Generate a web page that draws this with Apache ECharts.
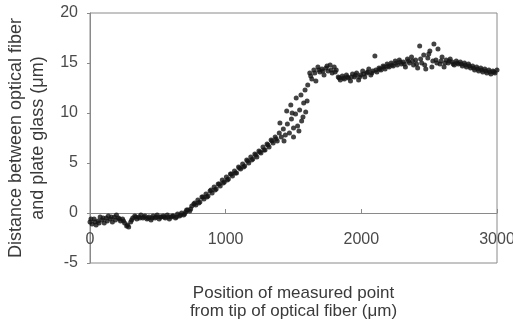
<!DOCTYPE html>
<html>
<head>
<meta charset="utf-8">
<script src="https://cdn.jsdelivr.net/npm/echarts@6/dist/echarts.min.js"></script>
<style>
  html, body { margin: 0; padding: 0; background: #fff; }
  #chart { width: 513px; height: 329px; }
</style>
</head>
<body>
<div id="chart"></div>
<script>
// Axis ticks
const yTicks = [-5, 0, 5, 10, 15, 20];
const xTicks = [0, 1000, 2000, 3000];

// Flat part before the fiber lifts off (um)
const flatX = [0, 15, 30, 45, 60, 75, 90, 105, 120, 135, 150, 165, 180, 195, 210, 225, 240, 255, 270, 285,
  300, 315, 330, 345, 360, 375, 390, 405, 420, 435, 450, 465, 480, 495, 510, 525, 540, 555, 570, 585,
  600, 615, 630, 645, 660, 675, 690];
const flatY = [-0.9, -1.1, -0.6, -1.2, -0.8, -0.4, -0.7, -1.0, -0.5, -0.3, -0.6, -0.9, -0.4, -0.2, -0.5, -0.8, -0.6, -1.0, -1.3, -1.4,
  -0.9, -0.5, -0.3, -0.6, -0.4, -0.2, -0.5, -0.3, -0.6, -0.4, -0.7, -0.3, -0.5, -0.2, -0.6, -0.4, -0.3, -0.5, -0.2, -0.6,
  -0.4, -0.3, -0.5, -0.1, -0.3, 0.0, -0.2];
const flat2X = [7, 37, 67, 97, 127, 157, 187, 217, 247, 277, 307, 337, 367, 397, 427, 457, 487, 517, 547, 577, 607, 637, 667, 697];
const flat2Y = [-0.6, -0.9, -1.0, -0.5, -0.8, -0.4, -0.7, -0.6, -0.8, -1.2, -0.7, -0.4, -0.5, -0.4, -0.5, -0.5, -0.4, -0.4, -0.4, -0.4, -0.3, -0.4, -0.2, -0.1];

// Rising part
const rampX = [705, 720, 735, 750, 765, 780, 795, 810, 825, 840, 855, 870, 885, 900, 915, 930, 945, 960, 975, 990,
  1005, 1020, 1035, 1050, 1065, 1080, 1095, 1110, 1125, 1140, 1155, 1170, 1185, 1200, 1215, 1230, 1245, 1260, 1275, 1290,
  1305, 1320, 1335, 1350, 1365, 1380, 1395, 1410, 1425, 1440, 1455, 1470, 1485, 1500, 1515, 1530, 1545, 1560, 1575, 1590,
  1400, 1430, 1450, 1480, 1490, 1500, 1520, 1540, 1555, 1570, 1585, 1600];
const rampY = [0.1, 0.3, 0.2, 0.7, 0.9, 0.8, 1.3, 1.1, 1.6, 1.4, 1.9, 1.7, 2.2, 2.0, 2.6, 2.4, 2.9, 2.7, 3.3, 3.1,
  3.6, 3.4, 3.9, 3.7, 4.2, 4.0, 4.6, 4.4, 4.9, 4.7, 5.3, 5.0, 5.6, 5.4, 5.9, 5.6, 6.2, 6.0, 6.6, 6.3,
  6.9, 6.6, 7.3, 7.0, 7.6, 7.2, 8.0, 7.6, 8.4, 7.8, 8.9, 8.0, 9.4, 8.5, 9.9, 8.7, 10.3, 9.2, 11.0, 10.1,
  9.0, 7.2, 10.2, 10.8, 10.0, 7.6, 11.5, 8.2, 11.8, 9.6, 12.3, 11.2];
const ramp2X = [712, 742, 772, 802, 832, 862, 892, 922, 952, 982, 1012, 1042, 1072, 1102, 1132, 1162, 1192, 1222, 1252, 1282, 1312, 1342, 1372];
const ramp2Y = [0.3, 0.4, 1.0, 1.0, 1.6, 1.6, 2.3, 2.3, 2.9, 3.0, 3.3, 3.9, 4.0, 4.5, 4.6, 5.2, 5.3, 5.8, 6.1, 6.3, 6.8, 7.2, 7.4];

// Plateau after contact is lost
const plateauX = [1605, 1620, 1635, 1650, 1665, 1680, 1695, 1710, 1725, 1740, 1755, 1770, 1785, 1800, 1815, 1830, 1845, 1860, 1875, 1890,
  1905, 1920, 1935, 1950, 1965, 1980, 1995, 2010, 2025, 2040, 2055, 2070, 2085, 2100, 2115, 2130, 2145, 2160, 2175, 2190,
  2205, 2220, 2235, 2250, 2265, 2280, 2295, 2310, 2325, 2340, 2355, 2370, 2385, 2400, 2415, 2430, 2445, 2460, 2475, 2490,
  2505, 2520, 2535, 2550, 2565, 2580, 2595, 2610, 2625, 2640, 2655, 2670, 2685, 2700, 2715, 2730, 2745, 2760, 2775, 2790,
  2805, 2820, 2835, 2850, 2865, 2880, 2895, 2910, 2925, 2940, 2955, 2970, 2985, 3000];
const plateauY = [12.8, 14.0, 13.4, 14.3, 13.2, 14.6, 14.1, 14.4, 13.8, 14.5, 14.2, 14.8, 14.0, 14.6, 14.3, 13.6, 13.3, 13.7, 13.4, 13.8,
  13.5, 13.2, 13.9, 13.6, 14.0, 13.3, 13.8, 14.2, 13.6, 14.0, 14.4, 13.8, 14.2, 15.7, 14.1, 14.5, 14.3, 14.7, 14.4, 14.9,
  14.6, 15.0, 14.7, 15.2, 14.8, 15.3, 14.9, 15.1, 14.6, 15.4, 15.0, 15.6, 14.8, 15.3, 14.5, 16.7, 15.0, 15.8, 14.4, 15.5,
  16.2, 14.6, 16.9, 15.3, 16.4, 14.9, 15.6, 14.6, 15.3, 15.0, 15.4, 15.1, 14.8, 15.2, 14.9, 15.1, 14.7, 15.0, 14.6, 14.9,
  14.5, 14.7, 14.3, 14.6, 14.2, 14.5, 14.1, 14.4, 14.0, 14.3, 13.9, 14.2, 14.0, 14.3];
const plateau2X = [1627, 1657, 1687, 1717, 1747, 1777, 1807, 1837, 1867, 1897, 1927, 1957, 1987, 2017, 2047, 2077, 2107, 2137, 2167, 2197,
  2227, 2257, 2287, 2317, 2347, 2377, 2407, 2437, 2467, 2497, 2527, 2557, 2587, 2617, 2647, 2677, 2707, 2737, 2767, 2797,
  2827, 2857, 2887, 2917, 2947, 2977];
const plateau2Y = [13.7, 14.0, 14.3, 14.2, 14.7, 14.3, 14.1, 13.5, 13.5, 13.6, 13.6, 13.8, 13.6, 13.9, 14.1, 14.0, 14.3, 14.4, 14.6, 14.7,
  14.8, 15.0, 15.1, 14.9, 15.2, 15.2, 14.9, 15.4, 14.8, 15.9, 15.2, 15.0, 15.2, 15.0, 15.2, 14.9, 15.0, 14.9, 14.8, 14.7,
  14.5, 14.4, 14.3, 14.2, 14.1, 14.1];

const zip = (xs, ys) => xs.map((x, i) => [x, ys[i]]);
const points = [].concat(
  zip(flatX, flatY), zip(flat2X, flat2Y),
  zip(rampX, rampY), zip(ramp2X, ramp2Y),
  zip(plateauX, plateauY), zip(plateau2X, plateau2Y)
);

const font = 'Liberation Sans, Arial, sans-serif';
const axisGray = '#8a8a8a';

const chart = echarts.init(document.getElementById('chart'), null, { renderer: 'canvas' });

chart.setOption({
  animation: false,
  backgroundColor: '#ffffff',
  grid: {
    left: 90,
    right: 16,
    top: 13,
    bottom: 66,
    outerBoundsMode: 'none', // keep the plot box where it is
    show: true,
    borderColor: axisGray,
    borderWidth: 1,
  },
  xAxis: {
    type: 'value',
    min: xTicks[0],
    max: xTicks[xTicks.length - 1],
    interval: 1000,
    axisLine: { onZero: true, lineStyle: { color: axisGray, width: 1 } },
    axisTick: { show: true, inside: true, length: 4, lineStyle: { color: axisGray } },
    // labels are laid out from the bottom of the box, so pull them up under the zero line
    axisLabel: {
      margin: -31,
      color: '#4a4a4a',
      fontSize: 16,
      fontFamily: font,
      formatter: (v) => String(v), // no thousands separator
    },
    splitLine: { show: false },
    name: 'Position of measured point\nfrom tip of optical fiber (\u03bcm)',
    nameLocation: 'middle',
    nameGap: 21,
    nameTextStyle: { color: '#3a3a3a', fontSize: 17, fontFamily: font, lineHeight: 18 },
  },
  yAxis: {
    type: 'value',
    min: yTicks[0],
    max: yTicks[yTicks.length - 1],
    interval: 5,
    axisLine: { show: true, onZero: false, lineStyle: { color: axisGray, width: 1 } },
    axisTick: { show: true, length: 3, lineStyle: { color: axisGray } },
    axisLabel: { margin: 12, color: '#4a4a4a', fontSize: 16, fontFamily: font },
    splitLine: { show: false },
    name: 'Distance between optical fiber\nand plate glass (\u03bcm)',
    nameLocation: 'middle',
    nameGap: 40,
    nameTextStyle: { color: '#3a3a3a', fontSize: 18, fontFamily: font, lineHeight: 22 },
  },
  series: [
    {
      type: 'scatter',
      data: points,
      symbol: 'circle',
      symbolSize: 5,
      itemStyle: { color: '#141414' },
    },
  ],
});
</script>
</body>
</html>
